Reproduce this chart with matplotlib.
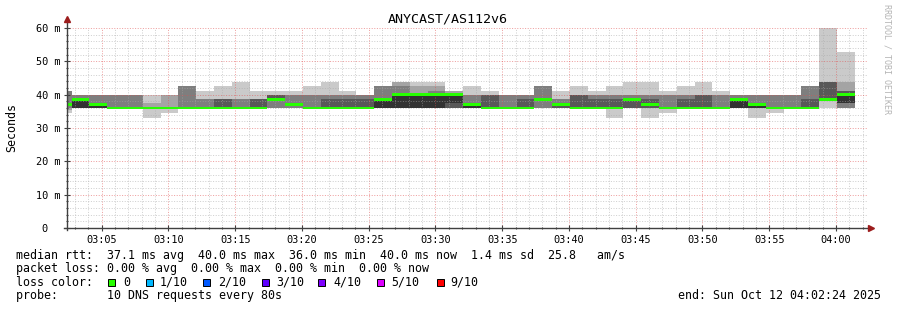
import matplotlib
matplotlib.use("Agg")
import matplotlib.pyplot as plt
import numpy as np
from matplotlib.patches import Rectangle

W, H = 897, 310
FONT = "DejaVu Sans Mono"

# ---- data -------------------------------------------------------------
# minutes after 03:00 ; graph covers 03:02:24 .. 04:02:24
t_begin, t_end = 2.4, 62.4
# probe slots: a cut-off slot at the left edge, then 44 slots of 80 s
slot_start = np.concatenate([[2.4], 2.75 + np.arange(44) * 80 / 60])
slot_stop = np.concatenate([[2.75], 2.75 + np.arange(1, 45) * 80 / 60])

# median rtt per slot (ms)
median = [37, 38.5, 37, 36, 36, 36, 36, 36, 36, 36, 36, 36, 38.5, 37, 36,
          36, 36, 36, 38.5, 40, 40, 40, 40, 37, 36, 36, 36, 38.5, 37, 36,
          36, 36, 38.5, 37, 36, 36, 36, 36, 38.5, 37, 36, 36, 36, 38.5, 40]

# packet loss per slot (out of 10)
loss = [0] * 45

# 10 sorted ping rtts per slot (ms)
pings = [
    [34.6, 35.5, 36, 37, 37, 37, 37, 41.2, 41.2, 41.2],
    [36, 36, 36, 36, 36, 39, 39, 40, 40, 40],
    [36, 36, 36, 36, 36, 37, 37, 40, 40, 40],
    [36, 36, 36, 36, 36, 36, 36, 40, 40, 40],
    [36, 36, 36, 36, 36, 36, 36, 40, 40, 40],
    [33, 36, 36, 36, 36, 36, 36, 36, 37.4, 40],
    [34.6, 36, 36, 36, 36, 36, 36, 36, 40, 40],
    [36, 36, 36, 36, 36, 36, 36, 42.6, 42.6, 42.6],
    [36, 36, 36, 36, 36, 36, 36, 38.7, 38.7, 41.2],
    [36, 36, 36, 36, 36, 36, 38.7, 38.7, 38.7, 42.6],
    [36, 36, 36, 36, 36, 36, 36, 38.7, 38.7, 43.9],
    [36, 36, 36, 36, 36, 36, 38.7, 38.7, 38.7, 41.2],
    [36, 36, 36, 38.5, 38.5, 38.5, 40, 40, 40, 41.2],
    [36, 36, 36, 37, 37, 37, 37, 40, 40, 41.2],
    [36, 36, 36, 36, 36, 36, 36, 40, 40, 42.6],
    [36, 36, 36, 36, 36, 36, 38.7, 40, 40, 43.9],
    [36, 36, 36, 36, 36, 36, 38.7, 40, 40, 41.2],
    [36, 36, 36, 36, 36, 36, 38.7, 40, 40, 40],
    [36, 36, 36, 36, 36, 38.5, 38.5, 42.6, 42.6, 42.6],
    [36, 36, 36, 36, 36, 40, 40, 42.6, 43.9, 43.9],
    [36, 36, 36, 36, 36, 40, 40, 40, 42.6, 43.9],
    [36, 36, 36, 36, 36, 40, 40, 41.2, 42.6, 43.9],
    [36, 36, 36, 36, 37.5, 40, 40, 40, 41.2, 41.2],
    [36, 36, 36, 36, 36, 37.2, 37.2, 40, 40, 42.6],
    [36, 36, 36, 36, 36, 36, 40, 40, 40, 41.2],
    [36, 36, 36, 36, 36, 36, 36, 40, 40, 40],
    [36, 36, 36, 36, 36, 36, 38.7, 40, 40, 40],
    [36, 36, 36, 38.5, 38.5, 38.5, 38.5, 42.6, 42.6, 42.6],
    [36, 36, 36, 36, 37, 37, 37, 38.6, 38.6, 41.2],
    [36, 36, 36, 36, 36, 36, 40, 40, 40, 42.6],
    [36, 36, 36, 36, 36, 36, 38.7, 40, 40, 41.2],
    [33.1, 36, 36, 36, 36, 36, 38.7, 40, 40, 42.6],
    [36, 36, 36, 36, 38.5, 38.5, 38.5, 40, 40, 43.9],
    [33.1, 36, 36, 36, 37, 37, 38.7, 40, 40, 43.9],
    [34.6, 36, 36, 36, 36, 36, 36, 40, 40, 41.2],
    [36, 36, 36, 36, 36, 36, 38.7, 40, 40, 42.6],
    [36, 36, 36, 36, 36, 36, 40, 40, 40, 43.9],
    [36, 36, 36, 36, 36, 36, 36, 40, 40, 41.2],
    [36, 36, 36, 36, 36, 38.5, 38.5, 40, 40, 40],
    [33.1, 36, 36, 36, 36, 37, 37, 40, 40, 40],
    [34.6, 36, 36, 36, 36, 36, 36, 40, 40, 40],
    [36, 36, 36, 36, 36, 36, 36, 40, 40, 40],
    [36, 36, 36, 36, 36, 36, 38.7, 42.6, 42.6, 42.6],
    [36, 38.5, 38.5, 38.5, 38.5, 38.5, 43.9, 43.9, 43.9, 60],
    [36, 36, 36, 37.4, 37.4, 40, 41.2, 41.2, 43.9, 52.8],
]

loss_labels = ["0", "1/10", "2/10", "3/10", "4/10", "5/10", "9/10"]
loss_colors = ["#26ff00", "#00b8ff", "#0059ff", "#5e00ff", "#7e00ff",
               "#dd00ff", "#ff0000"]

title = "ANYCAST/AS112v6"
stats_rtt = ("median rtt:  37.1 ms avg  40.0 ms max  36.0 ms min  "
             "40.0 ms now  1.4 ms sd  25.8   am/s")
stats_loss = ("packet loss: 0.00 % avg  0.00 % max  0.00 % min  "
              "0.00 % now")
probe_text = "probe:       10 DNS requests every 80s"
end_text = "end: Sun Oct 12 04:02:24 2025"

# ---- figure -----------------------------------------------------------
plt.rcParams["font.family"] = [FONT, "DejaVu Sans"]
fig = plt.figure(figsize=(W / 100, H / 100), dpi=100)
fig.patch.set_facecolor("white")


def fx(px):
    return px / W


def fy(py):
    return 1 - py / H


ax = fig.add_axes([fx(67), fy(228), fx(868) - fx(67), fy(28) - fy(228)])
ax.set_xlim(t_begin, t_end)
ax.set_ylim(0, 60)

# smoke: nested bands of the sorted pings, outermost lightest
P = np.array(pings)
edges = np.append(slot_start, slot_stop[-1])
shades = ["#cacaca", "#a4a4a4", "#7e7e7e", "#585858", "#323232"]
for i in range(5):
    lo = np.append(P[:, i], P[-1, i])
    hi = np.append(P[:, 9 - i], P[-1, 9 - i])
    ax.fill_between(edges, lo, hi, step="post", color=shades[i], lw=0,
                    zorder=2)

# median bar, coloured by loss
med = np.array(median, dtype=float)
for k in range(len(med)):
    ax.fill_between([slot_start[k], slot_stop[k]], med[k] - 0.42,
                    med[k] + 0.38, color=loss_colors[0] if loss[k] == 0
                    else loss_colors[-1], lw=0, zorder=3)

# grid (drawn over the data, like rrdtool)
ax.set_xticks(np.arange(5, 61, 5))
ax.set_xticks(np.arange(3, 63, 1), minor=True)
ax.set_yticks(np.arange(0, 61, 10))
ax.set_yticks(np.arange(0, 61, 2), minor=True)
ax.set_axisbelow(False)
ax.grid(which="minor", color="#a8a8a8", alpha=0.55, lw=0.72,
        ls=(0, (1, 1.6)), zorder=4)
ax.grid(which="major", color="#e05050", alpha=0.55, lw=0.72,
        ls=(0, (1, 1.6)), zorder=5)

ax.set_xticklabels([f"{3 + m // 60:02d}:{m % 60:02d}"
                    for m in range(5, 61, 5)])
ax.set_yticklabels(["0  "] + [f"{v} m" for v in range(10, 61, 10)])
ax.tick_params(which="major", length=4, direction="inout", width=0.8,
               color="#404040", labelsize=7.4, pad=2.5)
ax.tick_params(which="minor", length=2, direction="inout", width=0.8,
               color="#404040")
ax.tick_params(axis="x", pad=3)

for s in ax.spines.values():
    s.set_visible(False)

# axis lines with arrows
ax.plot([t_begin, t_begin], [-0.5, 62.6], color="#404040", lw=1.0,
        clip_on=False, zorder=6)
ax.plot([t_begin - 0.2, t_end + 0.25], [0, 0], color="#404040", lw=1.0,
        clip_on=False, zorder=6)
ax.plot([t_begin], [62.6], marker="^", ms=4, color="#9c1c1c",
        clip_on=False, zorder=7)
ax.plot([t_end + 0.25], [0], marker=">", ms=4, color="#9c1c1c",
        clip_on=False, zorder=7)

# title, unit, watermark
fig.text(fx(448), fy(19), title, ha="center", va="center", fontsize=9.6,
         family=FONT)
fig.text(fx(12), fy(127), "Seconds", rotation=90, ha="center",
         va="center", fontsize=8.4, family=FONT)
fig.text(fx(887), fy(59), "RRDTOOL / TOBI OETIKER", rotation=270,
         ha="center", va="center", fontsize=6.0, color="#b4b4b4",
         family=FONT)

# legend block
fs = 8.4
fig.text(fx(16), fy(258.5), stats_rtt, fontsize=fs, va="baseline",
         family=FONT)
fig.text(fx(16), fy(272), stats_loss, fontsize=fs, va="baseline",
         family=FONT)
fig.text(fx(16), fy(285.5), "loss color:", fontsize=fs, va="baseline",
         family=FONT)
box_x = [108.3, 145.7, 203.3, 261.7, 318.3, 376.7, 436.7]
lab_x = [123.3, 160, 218.3, 276, 333.3, 391.7, 450]
for bx, lx, lab, col in zip(box_x, lab_x, loss_labels, loss_colors):
    fig.add_artist(Rectangle((fx(bx), fy(286)), 7 / W, 7 / H,
                             transform=fig.transFigure, facecolor=col,
                             edgecolor="black", lw=0.7))
    fig.text(fx(lx), fy(285.5), lab, fontsize=fs, va="baseline",
             family=FONT)
fig.text(fx(16), fy(299), probe_text, fontsize=fs, va="baseline",
         family=FONT)
fig.text(fx(678), fy(299), end_text, fontsize=fs, va="baseline",
         family=FONT)

fig.savefig("out.png", dpi=100, facecolor="white")
